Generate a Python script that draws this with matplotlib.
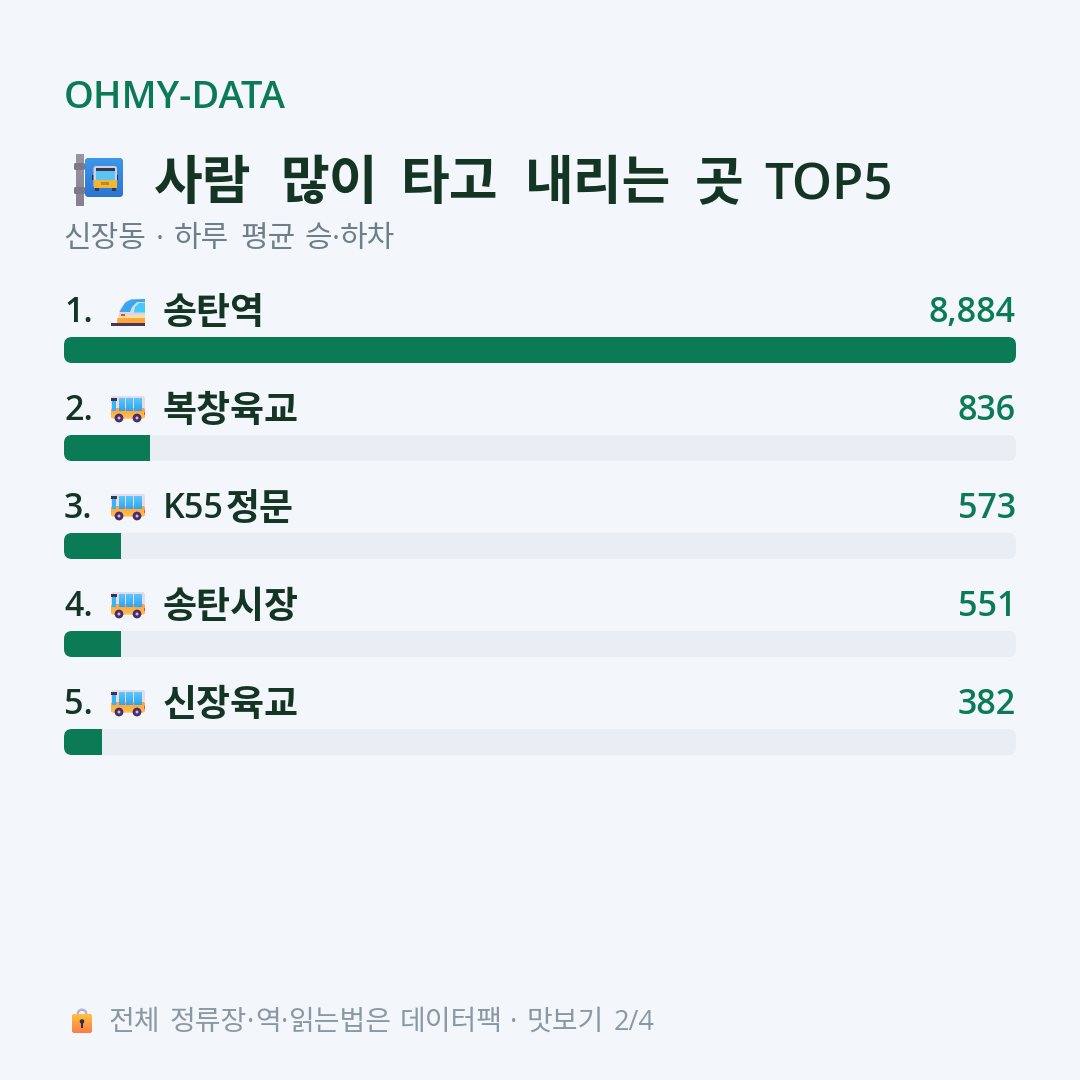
import re
import matplotlib
matplotlib.use('Agg')
import matplotlib.pyplot as plt
from matplotlib.colors import LinearSegmentedColormap
from matplotlib.patches import FancyBboxPatch, Rectangle, Circle, Polygon, Wedge
import numpy as np

HANGUL = ['Noto Sans CJK KR', 'DejaVu Sans']
LATIN = ['Open Sans', 'DejaVu Sans']
plt.rcParams['font.family'] = HANGUL

stops = ['송탄역', '복창육교', 'K55정문', '송탄시장', '신장육교']
riders = [8884, 836, 573, 551, 382]
kinds = ['train', 'bus', 'bus', 'bus', 'bus']

title_words = ['사람', '많이', '타고', '내리는', '곳']
title_x = [154, 280, 401, 525, 695]
sub_words = ['신장동', '하루', '평균', '승', '하차']
sub_x = [63, 174, 240, 304, 340]
sub_dots = [156, 332]
foot_words = ['전체', '정류장', '역', '읽는법은', '데이터팩', '맛보기']
foot_x = [108, 169.5, 254.8, 287.8, 400, 527]
foot_dots = [247.2, 280.6, 510]

BG = '#F3F6FB'
GREEN = '#0A7B55'
DARK = '#143524'
GRAY = '#6F7F8A'
FOOT = '#8A98A3'
TRACK = '#E9EDF4'
SEMI = 600
PX = 0.72  # px to pt at dpi 100

fig = plt.figure(figsize=(10.8, 10.8), dpi=100, facecolor=BG)
ax = fig.add_axes([0, 0, 1, 1])
ax.set_xlim(0, 1080)
ax.set_ylim(1080, 0)
ax.axis('off')


def txt(x, y, s, size, color, weight='normal', ha='left', family=HANGUL):
    return ax.text(x, y, s, fontsize=size * PX, color=color, fontweight=weight,
                   ha=ha, va='baseline', family=family)


def mixed(x, y, s, hangul_size, latin_size, color):
    # latin runs and hangul runs use different fonts, so lay them out one after another
    for run in re.findall(r'[A-Za-z0-9]+|[^A-Za-z0-9]+', s):
        if run.isascii():
            t = txt(x, y, run, latin_size, color, SEMI, family=LATIN)
        else:
            t = txt(x, y + 2, run, hangul_size, color, 'bold')
        x += t.get_window_extent(fig.canvas.get_renderer()).width + 2


def rrect(x, y, w, h, r, color, z=3):
    p = FancyBboxPatch((x + r, y + r), w - 2 * r, h - 2 * r, boxstyle=f'round,pad={r},rounding_size={r}',
                       fc=color, ec='none', zorder=z)
    ax.add_patch(p)
    return p


def rect(x, y, w, h, color, z=5):
    ax.add_patch(Rectangle((x, y), w, h, fc=color, ec='none', zorder=z))


def vgrad(x, y, w, h, top, bottom, clip=None, z=5):
    # vertical colour ramp, optionally clipped to a rounded shape
    cmap = LinearSegmentedColormap.from_list('ramp', [top, bottom])
    im = ax.imshow(np.linspace(0, 1, 32).reshape(-1, 1), cmap=cmap, extent=(x, x + w, y + h, y),
                   aspect='auto', zorder=z, interpolation='bilinear')
    if clip is not None:
        im.set_clip_path(clip)


def draw_bus(x, y):
    # small side-on bus, 34 x 26 px
    rrect(x, y, 34, 20, 2.5, '#E6DAEE')
    body = rrect(x, y + 12, 34, 10.5, 2.5, '#FFA733', z=4)
    vgrad(x, y + 12, 34, 10.5, '#FF9A3C', '#FFC24A', clip=body, z=4)
    rect(x, y + 1.5, 5.5, 3, '#3A3550')
    rect(x + 1, y + 4.5, 4, 10, '#35B6F2')
    for wx, ww in [(x + 7.5, 6), (x + 15, 6.5), (x + 23, 8)]:
        vgrad(wx, y + 2, ww, 13, '#5BC8FA', '#2FA4F2')
    rect(x + 32.5, y + 16, 1.5, 3, '#F0437A')
    for cx in [x + 8, x + 26]:
        ax.add_patch(Circle((cx, y + 22), 4.4, fc='#4A2C6A', ec='none', zorder=6))
        ax.add_patch(Circle((cx, y + 22), 1.5, fc='#CDBBD8', ec='none', zorder=7))


def draw_train(x, y):
    # bullet train nose cut at the right edge, 34 x 27 px
    ax.add_patch(Polygon([(x + 7, y + 21), (x + 9, y + 10), (x + 15, y + 2), (x + 22, y),
                          (x + 34, y), (x + 34, y + 21)], fc='#DAD6E8', ec='none', zorder=3))
    ax.add_patch(Polygon([(x + 8.5, y + 13), (x + 14, y + 4), (x + 20, y + 0.5), (x + 34, y),
                          (x + 34, y + 3), (x + 26, y + 3), (x + 21, y + 8), (x + 19, y + 13)],
                         fc='#3AA6EE', ec='none', zorder=4))
    ax.add_patch(Polygon([(x + 23, y + 13.5), (x + 24, y + 8), (x + 28, y + 4), (x + 34, y + 4),
                          (x + 34, y + 13.5)], fc='#45CBFB', ec='none', zorder=4))
    rect(x + 6.5, y + 16, 27.5, 3.5, '#F3DEAC', z=4)
    ax.add_patch(Polygon([(x + 6, y + 24), (x + 6.5, y + 19), (x + 34, y + 19), (x + 34, y + 24)],
                         fc='#FFA733', ec='none', zorder=4))
    rect(x + 10, y + 14.5, 4, 2, '#F0433A')
    rect(x, y + 24, 34, 3, '#4A3560')


def draw_stop(x, y):
    # bus stop sign on a pole
    vgrad(x + 3, y, 8, 52, '#9A96A2', '#85818E', z=3)
    rrect(x + 1, y + 9, 11, 7, 1.5, '#7C7884', z=3)
    rrect(x + 1, y + 33, 11, 7, 1.5, '#7C7884', z=3)
    sign = rrect(x + 12, y + 4, 38, 39, 4, '#2F86E0', z=4)
    vgrad(x + 12, y + 4, 38, 39, '#3C97EA', '#2C74D2', clip=sign, z=4)
    rect(x + 19, y + 21, 2, 5, '#2B2F4A')
    rect(x + 43, y + 21, 2, 5, '#2B2F4A')
    rrect(x + 20.5, y + 12, 23.5, 22, 2.5, '#D5CDE2', z=5)
    rect(x + 23, y + 14, 18.5, 2.5, '#3A3550', z=6)
    rect(x + 23, y + 16.5, 18.5, 9, '#5BC4F7', z=6)
    rect(x + 20.5, y + 26, 23.5, 8, '#F2B632', z=6)
    rect(x + 28, y + 28, 8, 3, '#B98A2A', z=7)
    for wx in [x + 22, x + 39]:
        rect(wx, y + 34, 3.5, 2.5, '#3A3550', z=4.5)


def draw_lock(x, y):
    ax.add_patch(Wedge((x + 10, y + 7), 5.5, 180, 360, width=2.4, fc='#B9B2C6', ec='none', zorder=3))
    rect(x + 4.5, y + 7, 2.4, 6, '#B9B2C6', z=3)
    rect(x + 13.1, y + 7, 2.4, 6, '#B9B2C6', z=3)
    body = rrect(x, y + 7, 20, 19, 2.5, '#FFA733', z=4)
    vgrad(x, y + 7, 20, 19, '#FFC23C', '#FF7A4A', clip=body, z=4)
    ax.add_patch(Circle((x + 10, y + 14.5), 2.3, fc='#2B2F4A', ec='none', zorder=6))
    rect(x + 9, y + 15, 2, 5.5, '#2B2F4A', z=6)


# header
txt(64, 108, 'OHMY-DATA', 38, GREEN, SEMI, family=LATIN)
draw_stop(73, 154)
for w, x in zip(title_words, title_x):
    txt(x, 199, w, 53, DARK, 'bold')
txt(764, 199, 'TOP5', 51, DARK, SEMI, family=LATIN)
for w, x in zip(sub_words, sub_x):
    txt(x, 247, w, 30, GRAY)
for x in sub_dots:
    txt(x, 247, '·', 30, GRAY, family=LATIN)

# bars sit in their own axes, x in percent of the largest stop
pct = [round(v / max(riders) * 100) for v in riders]
TOP, PITCH, H = 337, 98, 26
bar_ax = fig.add_axes([64 / 1080, 1 - 755 / 1080, 952 / 1080, 418 / 1080])
bar_ax.set_xlim(0, 100)
bar_ax.set_ylim(418, 0)
bar_ax.axis('off')
bar_ax.patch.set_alpha(0)

for i, (name, kind, v, p) in enumerate(zip(stops, kinds, riders, pct)):
    y = TOP + PITCH * i
    base = y - 15
    txt(64, base, f'{i + 1}.', 34, DARK, SEMI, family=LATIN)
    if kind == 'train':
        draw_train(111, y - 38)
    else:
        draw_bus(111, y - 39)
    mixed(163, base, name, 37, 34, DARK)
    txt(1016, base, f'{v:,}', 34, GREEN, SEMI, ha='right', family=LATIN)
    track = rrect(64, y, 952, H, 8, TRACK, z=1)
    bars = bar_ax.barh(PITCH * i + H / 2, p, height=H, color=GREEN, linewidth=0)
    bars[0].set_clip_path(track)

# footer
draw_lock(72, 1007)
for w, x in zip(foot_words, foot_x):
    txt(x, 1030, w, 28, FOOT)
for x in foot_dots:
    txt(x, 1030, '·', 28, FOOT, family=LATIN)
txt(614, 1030, '2/4', 27, FOOT, family=LATIN)

ax.set_xlim(0, 1080)
ax.set_ylim(1080, 0)
fig.savefig('out.png', dpi=100, facecolor=BG)
